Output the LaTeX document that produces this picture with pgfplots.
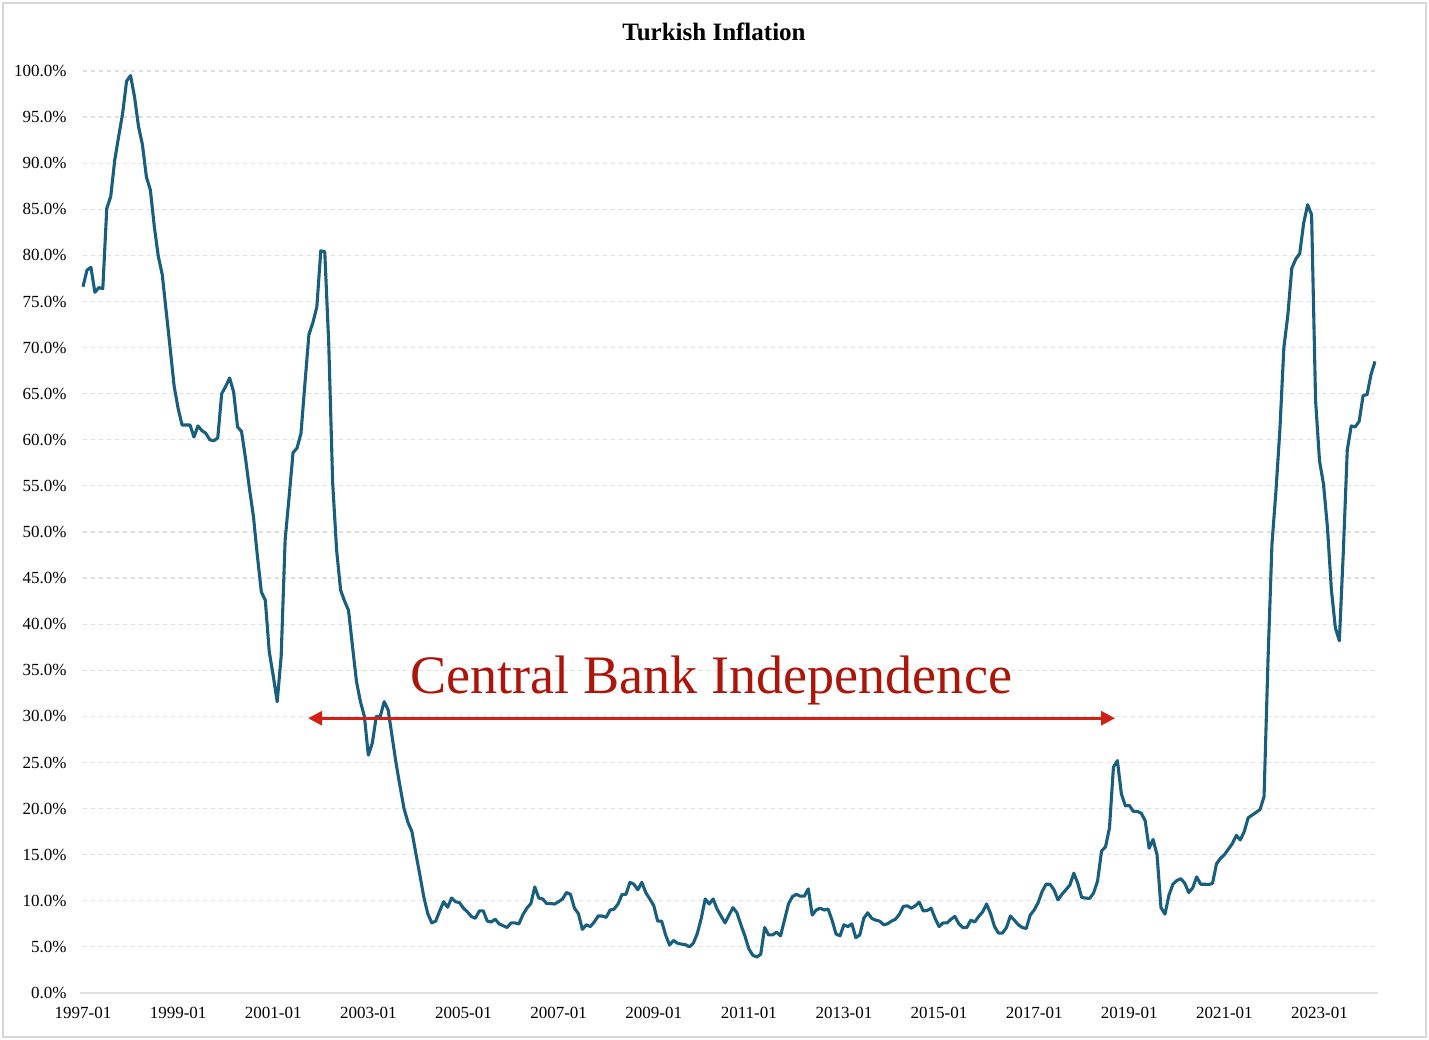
\documentclass[border=0pt]{standalone}
\usepackage{fontspec}
\setmainfont{Liberation Serif}
\usepackage{pgfplots}
\usepackage{pgfplotstable}
\pgfplotsset{compat=1.18}
\usetikzlibrary{arrows.meta}
\definecolor{lineblue}{RGB}{24,94,126}
\definecolor{gridgray}{RGB}{222,222,222}
\definecolor{framegray}{RGB}{215,215,215}
\definecolor{arrowred}{RGB}{212,32,20}
\definecolor{textred}{RGB}{172,22,10}
\pgfplotstableread{
m v
0 76.6
1 78.4
2 78.7
3 76.0
4 76.5
5 76.4
6 85.1
7 86.4
8 90.3
9 92.9
10 95.4
11 98.9
12 99.5
13 97.2
14 94.0
15 92.0
16 88.5
17 87.1
18 83.1
19 79.9
20 77.9
21 73.9
22 69.9
23 65.8
24 63.4
25 61.6
26 61.6
27 61.6
28 60.3
29 61.5
30 61.0
31 60.7
32 60.0
33 59.9
34 60.2
35 65.0
36 65.8
37 66.7
38 65.2
39 61.4
40 60.9
41 58.0
42 54.7
43 51.7
44 47.4
45 43.5
46 42.6
47 37.0
48 34.4
49 31.6
50 36.5
51 49.1
52 53.8
53 58.6
54 59.1
55 60.7
56 66.1
57 71.4
58 72.7
59 74.4
60 80.5
61 80.4
62 70.5
63 55.3
64 48.0
65 43.7
66 42.5
67 41.5
68 37.6
69 33.8
70 31.6
71 30.0
72 25.8
73 27.1
74 30.0
75 30.0
76 31.6
77 30.7
78 27.8
79 24.9
80 22.4
81 20.0
82 18.5
83 17.5
84 15.1
85 12.8
86 10.4
87 8.6
88 7.6
89 7.8
90 8.9
91 9.9
92 9.3
93 10.3
94 9.9
95 9.8
96 9.2
97 8.8
98 8.3
99 8.1
100 8.9
101 8.9
102 7.8
103 7.7
104 8.0
105 7.5
106 7.3
107 7.1
108 7.6
109 7.6
110 7.5
111 8.5
112 9.2
113 9.7
114 11.5
115 10.3
116 10.2
117 9.7
118 9.7
119 9.65
120 9.9
121 10.2
122 10.9
123 10.7
124 9.2
125 8.6
126 6.9
127 7.4
128 7.2
129 7.7
130 8.35
131 8.35
132 8.2
133 9.0
134 9.1
135 9.65
136 10.7
137 10.7
138 12.0
139 11.8
140 11.2
141 12.0
142 10.9
143 10.2
144 9.5
145 7.8
146 7.8
147 6.3
148 5.2
149 5.7
150 5.4
151 5.3
152 5.25
153 5.0
154 5.4
155 6.45
156 8.1
157 10.2
158 9.65
159 10.2
160 9.1
161 8.35
162 7.6
163 8.45
164 9.25
165 8.7
166 7.4
167 6.2
168 4.8
169 4.1
170 3.9
171 4.2
172 7.1
173 6.3
174 6.3
175 6.6
176 6.2
177 7.9
178 9.65
179 10.45
180 10.7
181 10.5
182 10.5
183 11.3
184 8.45
185 9.0
186 9.2
187 9.0
188 9.1
189 7.9
190 6.4
191 6.2
192 7.4
193 7.2
194 7.5
195 6.0
196 6.3
197 8.1
198 8.7
199 8.1
200 7.9
201 7.8
202 7.4
203 7.5
204 7.8
205 8.0
206 8.55
207 9.4
208 9.45
209 9.2
210 9.45
211 9.85
212 8.9
213 8.95
214 9.2
215 8.1
216 7.2
217 7.6
218 7.6
219 8.0
220 8.3
221 7.5
222 7.1
223 7.1
224 7.9
225 7.7
226 8.3
227 8.8
228 9.65
229 8.6
230 7.2
231 6.5
232 6.5
233 7.1
234 8.35
235 7.9
236 7.4
237 7.1
238 7.0
239 8.45
240 9.0
241 9.8
242 11.0
243 11.8
244 11.8
245 11.2
246 10.1
247 10.7
248 11.2
249 11.7
250 13.0
251 11.9
252 10.35
253 10.3
254 10.25
255 10.85
256 12.15
257 15.4
258 15.85
259 17.9
260 24.5
261 25.2
262 21.6
263 20.3
264 20.35
265 19.7
266 19.7
267 19.5
268 18.7
269 15.7
270 16.65
271 15.0
272 9.25
273 8.55
274 10.6
275 11.8
276 12.2
277 12.4
278 11.9
279 10.9
280 11.4
281 12.6
282 11.8
283 11.8
284 11.75
285 11.9
286 14.0
287 14.6
288 15.0
289 15.6
290 16.2
291 17.1
292 16.6
293 17.5
294 19.0
295 19.3
296 19.6
297 19.9
298 21.3
299 36.1
300 48.7
301 54.4
302 61.1
303 70.0
304 73.5
305 78.6
306 79.6
307 80.2
308 83.5
309 85.5
310 84.4
311 64.3
312 57.7
313 55.2
314 50.5
315 43.7
316 39.6
317 38.2
318 47.8
319 58.9
320 61.5
321 61.4
322 62.0
323 64.8
324 64.9
325 67.1
326 68.5
}\inflation
\begin{document}
\begin{tikzpicture}
\begin{axis}[
  scale only axis, width=646bp, height=461bp,
  xmin=0, xmax=326, ymin=0, ymax=100,
  axis line style={draw=none},
  major tick length=0pt,
  xtick={0,24,48,72,96,120,144,168,192,216,240,264,288,312},
  xticklabels={1997-01,1999-01,2001-01,2003-01,2005-01,2007-01,2009-01,2011-01,2013-01,2015-01,2017-01,2019-01,2021-01,2023-01},
  ytick={0,5,...,100},
  yticklabel={\pgfmathprintnumber[fixed,fixed zerofill,precision=1]{\tick}\%},
  /pgf/number format/assume math mode=true,
  ymajorgrids,
  major grid style={gridgray, dash pattern=on 2bp off 2bp, line width=0.6bp},
  ticklabel style={font=\fontsize{8.5bp}{10bp}\selectfont, inner sep=0pt},
  yticklabel style={anchor=east, xshift=-8bp},
  xticklabel style={anchor=north, yshift=-7bp},
  clip=false,
]
\path (rel axis cs:-0.06424,-0.05098) rectangle (rel axis cs:1.04180,1.07701);
\draw[framegray, line width=0.75bp] (rel axis cs:-0.0619,-0.0477) rectangle (rel axis cs:1.0395,1.0738);
\draw[gridgray, line width=1bp] (rel axis cs:-0.002,0) -- (rel axis cs:1.002,0);
\addplot[lineblue, line width=1.55bp, line join=round, no marks] table[x=m, y=v] {\inflation};
\draw[arrowred, line width=1.5bp, {Triangle[length=7bp,width=7bp]}-{Triangle[length=7bp,width=7bp]}] (axis cs:56.8,29.8) -- (axis cs:260.4,29.8);
\node[textred, anchor=base, inner sep=0pt, font=\fontsize{27.1bp}{31bp}\selectfont] at (axis cs:158.5,32.5) {Central Bank Independence};
\node[anchor=base, inner sep=0pt, font=\bfseries\fontsize{12.5bp}{14bp}\selectfont] at (rel axis cs:0.4884,1.0336) {Turkish Inflation};
\end{axis}
\end{tikzpicture}
\end{document}
